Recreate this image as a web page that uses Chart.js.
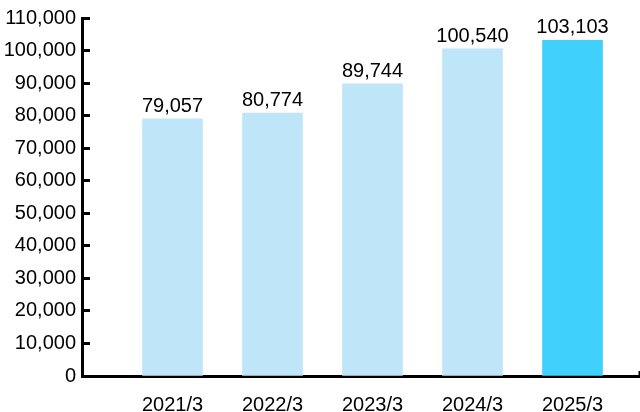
<!DOCTYPE html>
<html>
<head>
<meta charset="utf-8">
<script src="https://cdn.jsdelivr.net/npm/chart.js@4"></script>
<style>
  html, body { margin: 0; padding: 0; background: #ffffff; }
  #wrap { width: 640px; height: 412px; position: relative; }
</style>
</head>
<body>
<div id="wrap"><canvas id="c"></canvas></div>
<script>
const categories = ['2021/3', '2022/3', '2023/3', '2024/3', '2025/3'];
const values = [79057, 80774, 89744, 100540, 103103];
const barColors = ['#bfe6f8', '#bfe6f8', '#bfe6f8', '#bfe6f8', '#3fd0fc'];
const yTickMax = 110000;
const yTickStep = 10000;

const X_MIN = 0.095;
const X_MAX = 5.665;
const FONT = "'Liberation Sans', Arial, Helvetica, sans-serif";

const valueLabels = {
  id: 'valueLabels',
  afterDatasetsDraw(chart) {
    const ctx = chart.ctx;
    const meta = chart.getDatasetMeta(0);
    ctx.save();
    ctx.font = '20px ' + FONT;
    ctx.fillStyle = '#000';
    ctx.textAlign = 'center';
    ctx.textBaseline = 'alphabetic';
    meta.data.forEach((bar, i) => {
      ctx.fillText(values[i].toLocaleString('en-US'), bar.x, bar.y - 7);
    });
    ctx.restore();
  }
};

new Chart(document.getElementById('c'), {
  type: 'bar',
  data: {
    datasets: [{
      data: categories.map((c, i) => ({ x: i + 1, y: values[i] })),
      backgroundColor: barColors,
      borderWidth: 0,
      barThickness: 60
    }]
  },
  options: {
    responsive: true,
    maintainAspectRatio: false,
    animation: false,
    layout: { padding: { top: 18, right: 1, left: 0, bottom: 0 } },
    plugins: { legend: { display: false }, tooltip: { enabled: false } },
    scales: {
      x: {
        type: 'linear',
        offset: false,
        min: X_MIN,
        max: X_MAX,
        afterBuildTicks(scale) {
          scale.ticks = [1, 2, 3, 4, 5, X_MAX].map(v => ({ value: v }));
        },
        afterFit(scale) {
          scale.height = 36;
          scale.paddingLeft = 0;
          scale.paddingRight = 0;
        },
        border: { display: true, color: '#000', width: 3 },
        grid: {
          offset: false,
          drawOnChartArea: false,
          drawTicks: true,
          tickLength: -5,
          tickWidth: 2,
          tickColor: (ctx) => (ctx.tick && ctx.tick.value === X_MAX) ? '#000' : 'rgba(0,0,0,0)'
        },
        ticks: {
          autoSkip: false,
          maxRotation: 0,
          padding: 22,
          color: '#000',
          font: { family: FONT, size: 20 },
          callback: (v) => (Number.isInteger(v) && categories[v - 1]) ? categories[v - 1] : ''
        }
      },
      y: {
        min: 0,
        max: yTickMax,
        afterFit(scale) {
          scale.width = 82;
          scale.paddingTop = 0;
          scale.paddingBottom = 0;
        },
        border: { display: true, color: '#000', width: 3 },
        grid: {
          drawOnChartArea: false,
          drawTicks: true,
          tickLength: -8,
          tickWidth: 3,
          tickColor: '#000'
        },
        ticks: {
          stepSize: yTickStep,
          padding: 14,
          color: '#000',
          font: { family: FONT, size: 20 },
          callback: (v) => v.toLocaleString('en-US')
        }
      }
    }
  },
  plugins: [valueLabels]
});
</script>
</body>
</html>
